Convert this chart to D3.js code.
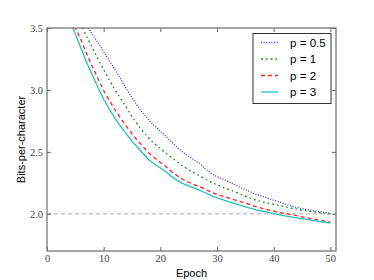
<!DOCTYPE html>
<html>
<head>
<meta charset="utf-8">
<script src="https://cdn.jsdelivr.net/npm/d3@7"></script>
<style>
  body { margin: 0; background: #fff; }
  svg { display: block; }
</style>
</head>
<body>
<div id="chart"></div>
<script>
// epochs 4..50 (earlier values are above the visible range)
var epochs = d3.range(4, 51);

var p05 = [3.80, 3.72, 3.65, 3.52, 3.45, 3.38, 3.31, 3.235, 3.165, 3.09, 3.01, 2.935, 2.87, 2.81, 2.755,
  2.71, 2.665, 2.625, 2.58, 2.535, 2.495, 2.465, 2.435, 2.405, 2.36, 2.325, 2.30, 2.28, 2.26, 2.24,
  2.215, 2.196, 2.175, 2.155, 2.14, 2.125, 2.11, 2.098, 2.08, 2.064, 2.052, 2.042, 2.033, 2.025, 2.018,
  2.011, 2.005];
var p1 = [3.75, 3.64, 3.53, 3.43, 3.34, 3.25, 3.165, 3.08, 3.0, 2.93, 2.86, 2.785, 2.72, 2.66, 2.61,
  2.565, 2.525, 2.49, 2.455, 2.418, 2.385, 2.355, 2.33, 2.305, 2.28, 2.255, 2.235, 2.215, 2.197, 2.18,
  2.16, 2.143, 2.125, 2.108, 2.097, 2.087, 2.077, 2.068, 2.057, 2.047, 2.038, 2.03, 2.023, 2.016, 2.01,
  2.005, 2.0];
var p2 = [3.62, 3.50, 3.405, 3.29, 3.19, 3.09, 2.995, 2.915, 2.84, 2.772, 2.707, 2.645, 2.59, 2.54, 2.49,
  2.45, 2.415, 2.38, 2.34, 2.307, 2.277, 2.255, 2.236, 2.218, 2.196, 2.175, 2.156, 2.142, 2.128, 2.114,
  2.10, 2.087, 2.072, 2.056, 2.044, 2.032, 2.021, 2.011, 2.002, 1.994, 1.985, 1.976, 1.967, 1.958, 1.949,
  1.941, 1.933];
var p3 = [3.56, 3.451, 3.337, 3.221, 3.121, 3.02, 2.925, 2.845, 2.772, 2.705, 2.645, 2.585, 2.535, 2.485, 2.435,
  2.40, 2.37, 2.34, 2.30, 2.27, 2.243, 2.225, 2.207, 2.19, 2.168, 2.147, 2.128, 2.114, 2.099, 2.085,
  2.07, 2.056, 2.044, 2.030, 2.022, 2.012, 2.002, 1.992, 1.984, 1.976, 1.968, 1.961, 1.953, 1.946, 1.939,
  1.932, 1.925];

var seriesNames = ["p = 0.5", "p = 1", "p = 2", "p = 3"];
var seriesValues = [p05, p1, p2, p3];
var colors = ["#3333ff", "#1a8a1a", "#ff2020", "#20c0c0"];
var dashes = ["1,1.6", "2,3,1.5,3", "4,3", null];

var xTicks = [0, 10, 20, 30, 40, 50];
var yTicks = [2.0, 2.5, 3.0, 3.5];
var refLine = 2.0;

var width = 374, height = 280;
var margin = {top: 28, right: 38, bottom: 29, left: 47};
var iw = width - margin.left - margin.right;
var ih = height - margin.top - margin.bottom;

var x = d3.scaleLinear().domain([0, 51]).range([0, iw]);
var y = d3.scaleLinear().domain([1.7, 3.5]).range([ih, 0]);

var svg = d3.select("#chart").append("svg")
  .attr("width", width)
  .attr("height", height);

var g = svg.append("g")
  .attr("transform", "translate(" + margin.left + "," + margin.top + ")");

g.append("clipPath").attr("id", "clip")
  .append("rect").attr("width", iw).attr("height", ih);

// reference line at 2.0
g.append("line")
  .attr("x1", 0).attr("x2", iw)
  .attr("y1", y(refLine)).attr("y2", y(refLine))
  .attr("stroke", "#aaa")
  .attr("stroke-width", 1)
  .attr("stroke-dasharray", "4,3");

var line = d3.line()
  .x(function(d, i) { return x(epochs[i]); })
  .y(function(d) { return y(d); });

var plot = g.append("g").attr("clip-path", "url(#clip)");
seriesValues.forEach(function(vals, k) {
  plot.append("path")
    .datum(vals)
    .attr("d", line)
    .attr("fill", "none")
    .attr("stroke", colors[k])
    .attr("stroke-width", 1.3)
    .attr("stroke-dasharray", dashes[k]);
});

// axes, ticks pointing inward
function styleAxis(sel, showLabels) {
  sel.attr("font-family", "'Liberation Serif', 'DejaVu Serif', serif")
    .attr("font-size", 10.5);
  sel.select(".domain").remove();
  sel.selectAll(".tick line").attr("stroke", "#666");
  sel.selectAll(".tick text").attr("fill", "#444");
  if (!showLabels) sel.selectAll(".tick text").remove();
}

g.append("g").attr("transform", "translate(0," + ih + ")")
  .call(d3.axisBottom(x).tickValues(xTicks).tickSizeInner(-4).tickPadding(4).tickFormat(d3.format("d")))
  .call(styleAxis, true);
g.append("g")
  .call(d3.axisTop(x).tickValues(xTicks).tickSizeInner(-4))
  .call(styleAxis, false);
g.append("g")
  .call(d3.axisLeft(y).tickValues(yTicks).tickSizeInner(-4).tickPadding(4).tickFormat(d3.format(".1f")))
  .call(styleAxis, true);
g.append("g").attr("transform", "translate(" + iw + ",0)")
  .call(d3.axisRight(y).tickValues(yTicks).tickSizeInner(-4))
  .call(styleAxis, false);

g.append("rect")
  .attr("width", iw).attr("height", ih)
  .attr("fill", "none")
  .attr("stroke", "#777")
  .attr("stroke-width", 1.3);

// axis titles
svg.append("text")
  .attr("x", margin.left + iw / 2)
  .attr("y", 277)
  .attr("text-anchor", "middle")
  .style("font-family", "'Liberation Sans', Arial, sans-serif")
  .style("font-size", "11px")
  .text("Epoch");

svg.append("text")
  .attr("transform", "translate(25," + (margin.top + ih / 2) + ") rotate(-90)")
  .attr("text-anchor", "middle")
  .style("font-family", "'Liberation Sans', Arial, sans-serif")
  .style("font-size", "11px")
  .text("Bits-per-character");

// legend
var legend = svg.append("g").attr("transform", "translate(253,33.5)");
legend.append("rect")
  .attr("width", 78).attr("height", 70)
  .attr("fill", "#fff")
  .attr("stroke", "#333")
  .attr("stroke-width", 1);

var rowY = d3.scalePoint().domain(seriesNames).range([9, 58.5]);
var items = legend.selectAll(".item").data(seriesNames).enter().append("g")
  .attr("transform", function(d) { return "translate(0," + rowY(d) + ")"; });
items.append("line")
  .attr("x1", 8).attr("x2", 25)
  .attr("stroke", function(d, i) { return colors[i]; })
  .attr("stroke-width", 1.3)
  .attr("stroke-dasharray", function(d, i) { return dashes[i]; });
items.append("text")
  .attr("x", 37).attr("dy", "0.35em")
  .style("font-family", "'Liberation Sans', Arial, sans-serif")
  .style("font-size", "11.6px")
  .text(function(d) { return d; });
</script>
</body>
</html>
